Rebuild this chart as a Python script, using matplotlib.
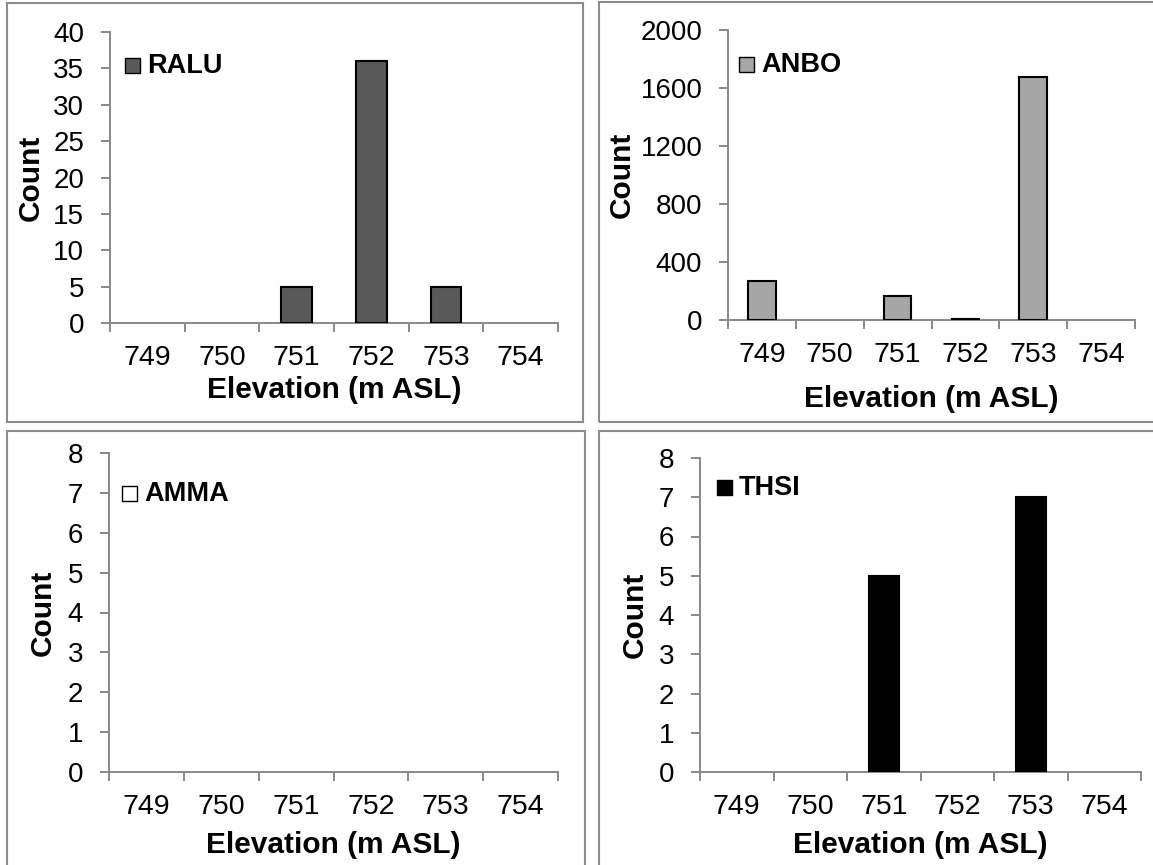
import matplotlib
matplotlib.use("Agg")
import matplotlib.pyplot as plt
from matplotlib.patches import Rectangle

plt.rcParams['font.family'] = ['Liberation Sans', 'DejaVu Sans']

# Data
elevations = ["749", "750", "751", "752", "753", "754"]
ralu = [0, 0, 5, 36, 5, 0]
anbo = [270, 0, 165, 6, 1675, 0]
amma = [0, 0, 0, 0, 0, 0]
thsi = [0, 0, 5, 0, 7, 0]

W, H = 1153, 865
fig = plt.figure(figsize=(W / 100, H / 100), dpi=100)

AXIS_GREY = "#898989"
FRAME_GREY = "#8c8c8c"


def px_rect(x0, y0, x1, y1):
    return [x0 / W, 1 - y1 / H, (x1 - x0) / W, (y1 - y0) / H]


# panel frames
for (x0, y0, x1, y1) in [(7, 3, 583, 422), (599, 2, 1165, 422),
                         (7, 431, 585, 875), (599, 431, 1165, 875)]:
    fig.add_artist(Rectangle((x0 / W, 1 - y1 / H), (x1 - x0) / W, (y1 - y0) / H,
                             transform=fig.transFigure, fill=False,
                             edgecolor=FRAME_GREY, linewidth=1.5))

panels = [
    dict(name="RALU", values=ralu, color="#595959", rect=(110, 32, 558, 323),
         ylim=40, step=5, leg=(125, 58), ylab_x=31, xlab_y=390),
    dict(name="ANBO", values=anbo, color="#a6a6a6", rect=(728, 30, 1135, 320),
         ylim=2000, step=400, leg=(739, 57), ylab_x=622, xlab_y=399),
    dict(name="AMMA", values=amma, color="#ffffff", rect=(109, 453, 558, 772),
         ylim=8, step=1, leg=(122, 486), ylab_x=43, xlab_y=845),
    dict(name="THSI", values=thsi, color="#000000", rect=(700, 458, 1141, 772),
         ylim=8, step=1, leg=(717, 480), ylab_x=635, xlab_y=845),
]

for p in panels:
    x0, y0, x1, y1 = p["rect"]
    ax = fig.add_axes(px_rect(x0, y0, x1, y1))
    xs = list(range(len(elevations)))
    bars = ax.bar(xs, p["values"], width=0.41, color=p["color"],
                  edgecolor="black", linewidth=1.5, zorder=3)
    # empty categories carry no visible bar
    for b, v in zip(bars, p["values"]):
        if v == 0:
            b.set_visible(False)
    ax.set_xlim(-0.5, len(elevations) - 0.5)
    ax.set_ylim(0, p["ylim"])
    ax.set_yticks([v for v in range(0, p["ylim"] + 1, p["step"])])
    for s in ("top", "right"):
        ax.spines[s].set_visible(False)
    for s in ("left", "bottom"):
        ax.spines[s].set_color(AXIS_GREY)
        ax.spines[s].set_linewidth(1.4)
    # ticks at category boundaries, labels at centers
    ax.set_xticks([i - 0.5 for i in range(len(elevations) + 1)])
    ax.set_xticklabels([])
    ax.set_xticks(xs, minor=True)
    ax.set_xticklabels(elevations, minor=True, fontsize=20.5)
    ax.tick_params(axis="x", which="major", direction="out", length=6.5,
                   width=1.4, color=AXIS_GREY)
    ax.tick_params(axis="x", which="minor", length=0, pad=16)
    ax.tick_params(axis="y", direction="out", length=6.5, width=1.4,
                   color=AXIS_GREY, labelsize=20, pad=12)
    ax.set_facecolor("none")

    ax.set_ylabel("Count", fontsize=21.5, fontweight="bold")
    ax.yaxis.set_label_coords((p["ylab_x"] - x0) / (x1 - x0), 0.5)
    ax.yaxis.label.set_va("center")
    ax.set_xlabel("Elevation (m ASL)", fontsize=21.5, fontweight="bold")
    ax.xaxis.set_label_coords(0.5, (y1 - p["xlab_y"]) / (y1 - y0))
    ax.xaxis.label.set_va("center")

    # legend key
    lx, ly = p["leg"]
    fig.add_artist(Rectangle((lx / W, 1 - (ly + 15) / H), 15 / W, 15 / H,
                             transform=fig.transFigure, facecolor=p["color"],
                             edgecolor="black", linewidth=1.0))
    fig.text((lx + 22) / W, 1 - (ly + 8) / H, p["name"], fontsize=19.5,
             fontweight="bold", va="center", ha="left")

fig.savefig("out.png", dpi=100, facecolor="white")
